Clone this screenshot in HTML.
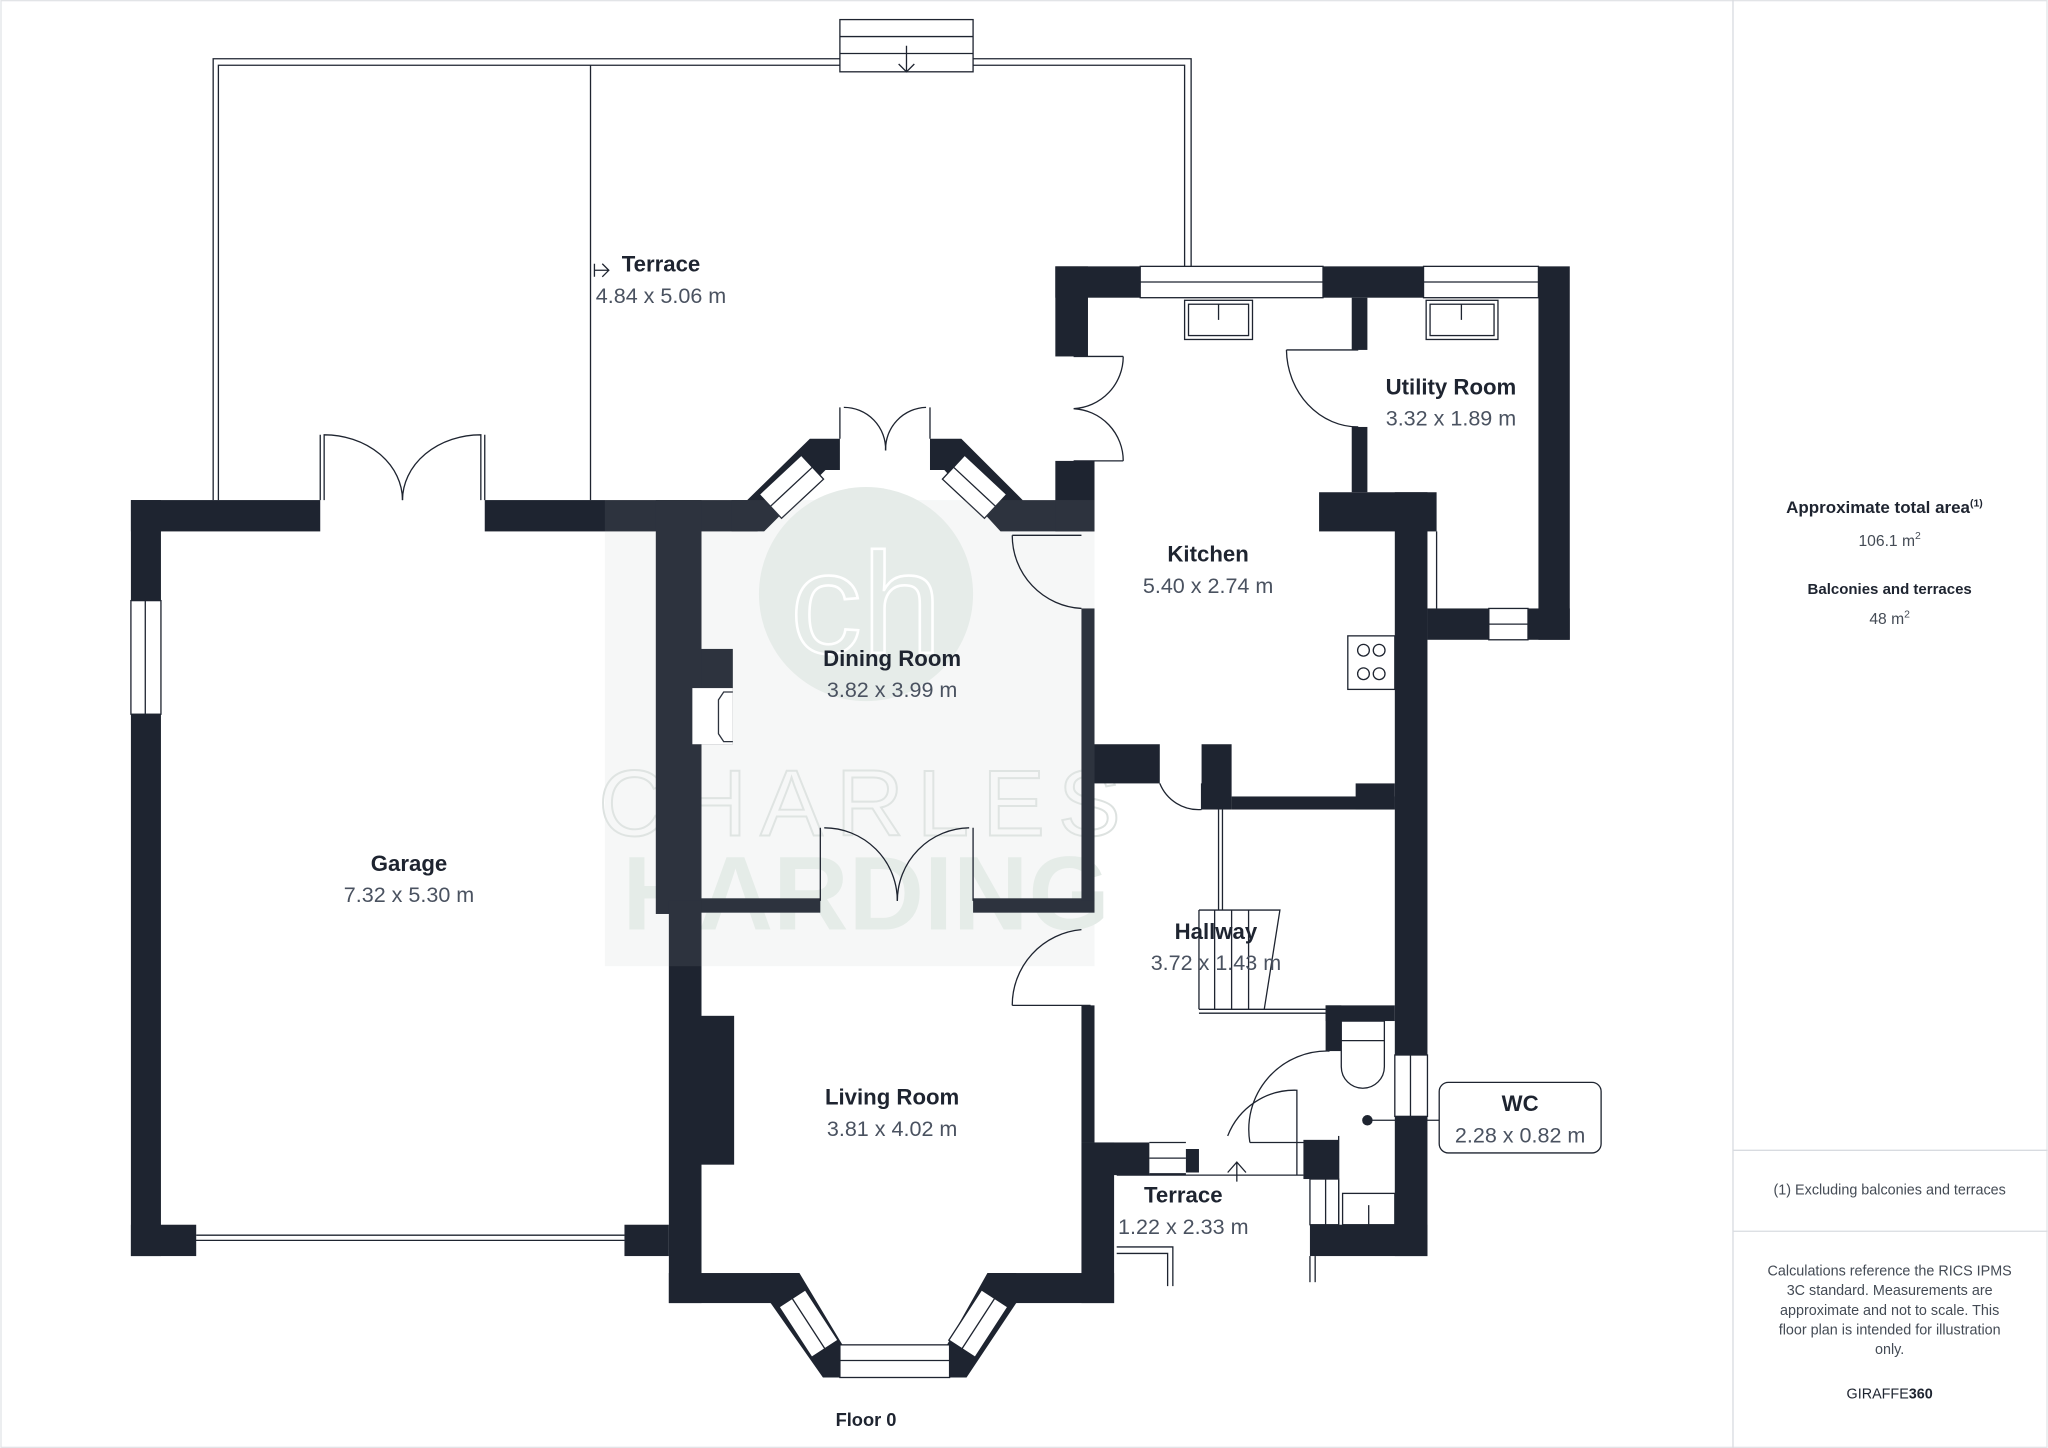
<!DOCTYPE html>
<html><head><meta charset="utf-8"><style>
html,body{margin:0;padding:0;background:#fff}
svg{display:block}
text{font-family:"Liberation Sans",sans-serif}
</style></head><body>
<svg width="2048" height="1448" viewBox="0 0 1568 1109" xmlns="http://www.w3.org/2000/svg">
<rect width="1568" height="1109" fill="#fff"/>
<rect x="0.5" y="0.5" width="1567" height="1108" fill="none" stroke="#e2e4e7"/>
<line x1="1327" y1="0" x2="1327" y2="1109" stroke="#d8dbe0"/>
<line x1="1327" y1="881" x2="1568" y2="881" stroke="#d8dbe0"/>
<line x1="1327" y1="943" x2="1568" y2="943" stroke="#d8dbe0"/>
<g fill="#1e2430" text-anchor="middle">
<text x="1443" y="393" font-size="13" font-weight="bold">Approximate total area<tspan font-size="8" dy="-5">(1)</tspan></text>
<text x="1447" y="418" font-size="12" fill="#444b55">106.1 m<tspan font-size="8" dy="-5">2</tspan></text>
<text x="1447" y="455" font-size="11.5" font-weight="bold">Balconies and terraces</text>
<text x="1447" y="478" font-size="12" fill="#444b55">48 m<tspan font-size="8" dy="-5">2</tspan></text>
<text x="1447" y="915" font-size="11" fill="#444b55">(1) Excluding balconies and terraces</text>
<g font-size="11" fill="#444b55">
<text x="1447" y="977">Calculations reference the RICS IPMS</text>
<text x="1447" y="992">3C standard. Measurements are</text>
<text x="1447" y="1007">approximate and not to scale. This</text>
<text x="1447" y="1022">floor plan is intended for illustration</text>
<text x="1447" y="1037">only.</text>
</g>
<text x="1447" y="1071" font-size="11" fill="#1e2430">GIRAFFE<tspan font-weight="bold">360</tspan></text>
<text x="663" y="1092" font-size="14" font-weight="bold">Floor 0</text>
</g>

<g fill="none" stroke="#1e2430" stroke-width="1">
<path d="M163 383 V45 H643 M745 45 H912 V204"/>
<path d="M167 383 V50 H643 M745 50 H907 V204"/>
<line x1="452" y1="50" x2="452" y2="383"/>
<rect x="643" y="15" width="102" height="40" fill="#fff"/>
<line x1="643" y1="28" x2="745" y2="28"/><line x1="643" y1="41" x2="745" y2="41"/>
<path d="M694 35 V55 M688 49 L694 55 L700 49"/>
<path d="M455 202 V212 M455 207 H466 M461 202 L466 207 L461 212"/>
</g>

<rect x="463" y="383" width="375" height="357" fill="#f6f7f7"/>
<circle cx="663" cy="455" r="82" fill="#e5ebe8"/>
<text x="663" y="500" text-anchor="middle" font-size="110" fill="none" stroke="#fff" stroke-width="2" font-family="Liberation Serif,serif">ch</text>
<text x="663" y="640" text-anchor="middle" font-size="72" fill="none" stroke="#dde2e0" stroke-width="1.5" letter-spacing="10">CHARLES</text>
<text x="663" y="712" text-anchor="middle" font-size="80" font-weight="bold" fill="#e4ebe7">HARDING</text>

<g fill="#1e2430">
<rect x="100" y="383" width="23" height="579"/>
<rect x="100" y="383" width="145" height="24"/>
<rect x="371" y="383" width="209" height="24"/>
<rect x="100" y="938" width="50" height="24"/>
<rect x="478" y="938" width="34" height="24"/>
<rect x="502" y="383" width="35" height="317"/>
<rect x="512" y="690" width="25" height="308"/>
<rect x="537" y="778" width="25" height="114"/>
<rect x="537" y="497" width="24" height="73"/>
<polygon points="560,383 572,383 620,336 643,336 643,360 632,360 585,407 560,407"/>
<polygon points="712,336 736,336 783,383 838,383 838,407 766,407 723,360 712,360"/>
<g transform="translate(581,396) rotate(-43)"><rect x="12" y="-12.5" width="44" height="25" fill="#fff" stroke="#1e2430" stroke-width="1"/><line x1="12" y1="0" x2="56" y2="0" stroke="#1e2430"/></g>
<g transform="translate(771,396) rotate(-137)"><rect x="12" y="-12.5" width="44" height="25" fill="#fff" stroke="#1e2430" stroke-width="1"/><line x1="12" y1="0" x2="56" y2="0" stroke="#1e2430"/></g>
<rect x="537" y="688" width="91" height="11"/>
<rect x="745" y="688" width="93" height="11"/>
<rect x="828" y="466" width="10" height="224"/>
<rect x="828" y="770" width="10" height="105"/>
<rect x="828" y="875" width="25" height="123"/>
<rect x="512" y="975" width="80" height="23"/>
<rect x="765" y="975" width="88" height="23"/>
<polygon points="590,975 612,975 645,1030 645,1055 630,1055 590,998"/>
<polygon points="778,975 756,975 725,1030 725,1055 740,1055 778,998"/>
<g transform="translate(601,986) rotate(57)"><rect x="10" y="-12" width="46" height="24" fill="#fff" stroke="#1e2430" stroke-width="1"/><line x1="10" y1="0" x2="56" y2="0" stroke="#1e2430"/></g>
<g transform="translate(767,986) rotate(123)"><rect x="10" y="-12" width="46" height="24" fill="#fff" stroke="#1e2430" stroke-width="1"/><line x1="10" y1="0" x2="56" y2="0" stroke="#1e2430"/></g>
<rect x="808" y="204" width="65" height="24"/>
<rect x="808" y="204" width="25" height="69"/>
<rect x="808" y="353" width="30" height="54"/>
<rect x="1013" y="204" width="77" height="24"/>
<rect x="1178" y="204" width="24" height="286"/>
<rect x="1035" y="228" width="12" height="40"/>
<rect x="1035" y="327" width="12" height="50"/>
<rect x="1010" y="377" width="90" height="30"/>
<rect x="1068" y="377" width="25" height="585"/>
<rect x="1093" y="466" width="47" height="24"/>
<rect x="1170" y="466" width="32" height="24"/>
<rect x="838" y="570" width="50" height="30"/>
<rect x="920" y="570" width="23" height="50"/>
<rect x="943" y="610" width="125" height="10"/>
<rect x="1038" y="600" width="30" height="20"/>
<rect x="1015" y="770" width="53" height="12"/>
<rect x="1015" y="770" width="12" height="35"/>
<rect x="838" y="875" width="42" height="25"/>
<rect x="908" y="880" width="10" height="18"/>
<rect x="998" y="873" width="27" height="30"/>
<rect x="1003" y="938" width="90" height="24"/>
</g>
<rect x="530" y="527" width="31" height="43" fill="#fff"/>
<path d="M561 530 H554 L550 536 V562 L554 568 H561" fill="none" stroke="#1e2430"/>

<rect x="463" y="383" width="375" height="357" fill="#fff" opacity="0.07"/>

<g fill="#fff" stroke="#1e2430" stroke-width="1">
<rect x="100" y="460" width="23" height="87"/><line x1="111" y1="460" x2="111" y2="547"/>
<rect x="873" y="204" width="140" height="24"/><line x1="873" y1="216" x2="1013" y2="216"/>
<rect x="1090" y="204" width="88" height="24"/><line x1="1090" y1="216" x2="1178" y2="216"/>
<rect x="1140" y="466" width="30" height="24"/><line x1="1140" y1="478" x2="1170" y2="478"/>
<rect x="1068" y="808" width="25" height="47"/><line x1="1080" y1="808" x2="1080" y2="855"/>
<rect x="643" y="1030" width="84" height="25"/><line x1="643" y1="1042" x2="727" y2="1042"/>
<rect x="907" y="230" width="52" height="30"/><rect x="910" y="233" width="46" height="24"/>
<rect x="1092" y="230" width="55" height="30"/><rect x="1095" y="233" width="49" height="24"/>
<rect x="1032" y="487" width="36" height="41"/>
<rect x="1028" y="914" width="40" height="24"/>
<rect x="1003" y="903" width="22" height="35"/>
</g>
<g fill="none" stroke="#1e2430" stroke-width="1">
<line x1="933" y1="233" x2="933" y2="245"/><line x1="1119" y1="233" x2="1119" y2="245"/>
<circle cx="1044" cy="498" r="4.5"/><circle cx="1056" cy="498" r="4.5"/><circle cx="1044" cy="516" r="4.5"/><circle cx="1056" cy="516" r="4.5"/>
<line x1="1100" y1="407" x2="1100" y2="466"/>
<line x1="123" y1="950" x2="478" y2="950"/><line x1="150" y1="946" x2="478" y2="946"/>
<path d="M245 383 V333 M248 383 V333 A60 50 0 0 1 308 383"/>
<path d="M371 383 V333 M368 383 V333 A60 50 0 0 0 308 383"/>
<path d="M643 336 V312 M646 312 A32 32 0 0 1 678 345"/>
<path d="M712 336 V312 M709 312 A32 32 0 0 0 678 345"/>
<path d="M628 690 V634 M631 634 A56 56 0 0 1 687 690"/>
<path d="M745 690 V634 M742 634 A56 56 0 0 0 687 690"/>
<path d="M822 273 H860 M860 273 A40 40 0 0 1 822 313 A40 40 0 0 1 860 353 M822 353 H860"/>
<path d="M775 410 H828 M775 410 A56 56 0 0 0 828 466"/>
<path d="M985 268 H1040 M985 268 A55 60 0 0 0 1040 327"/>
<path d="M775 770 H835 M775 770 A58 58 0 0 1 828 712"/>
<path d="M888 600 A32 32 0 0 0 920 620 M920 600 V620"/>
<line x1="933" y1="620" x2="933" y2="697"/><line x1="936" y1="620" x2="936" y2="697"/>
<path d="M918 697 H980 L968 773 M918 697 V773 M930 697 V773 M943 697 V773 M956 697 V773"/>
<path d="M918 773 H1015"/><path d="M918 776 H1015"/>
<path d="M1027 782 H1060 V817 A16 16 0 0 1 1027 817 Z"/><line x1="1027" y1="797" x2="1060" y2="797"/>
<path d="M1018 805 A60 60 0 0 0 957 875 M957 875 H1000"/>
<path d="M940 870 A55 55 0 0 1 993 835 V900"/>
<path d="M880 875 H908 M880 887 H908 M880 899 H908"/>
<line x1="855" y1="900" x2="998" y2="900"/><line x1="1025" y1="870" x2="1025" y2="940"/>
<line x1="1015" y1="903" x2="1015" y2="938"/><line x1="1048" y1="923" x2="1048" y2="938"/>
<path d="M940 898 L947 890 L954 898 M947 890 V905"/>
<path d="M855 955 H898 V985 M855 960 H894 V985"/>
<line x1="1003" y1="962" x2="1003" y2="982"/><line x1="1007" y1="962" x2="1007" y2="982"/>
<line x1="1050" y1="858" x2="1102" y2="858"/>
<rect x="1102" y="829" width="124" height="54" rx="7"/>
</g>
<circle cx="1047" cy="858" r="4" fill="#1e2430"/>

<g text-anchor="middle">
<g font-size="17" font-weight="bold" fill="#1e2430">
<text x="506" y="208">Terrace</text>
<text x="1111" y="302">Utility Room</text>
<text x="925" y="430">Kitchen</text>
<text x="683" y="510">Dining Room</text>
<text x="313" y="667">Garage</text>
<text x="931" y="719">Hallway</text>
<text x="683" y="846">Living Room</text>
<text x="1164" y="851">WC</text>
<text x="906" y="921">Terrace</text>
</g>
<g font-size="16.5" fill="#4a5260">
<text x="506" y="232">4.84 x 5.06 m</text>
<text x="1111" y="326">3.32 x 1.89 m</text>
<text x="925" y="454">5.40 x 2.74 m</text>
<text x="683" y="534">3.82 x 3.99 m</text>
<text x="313" y="691">7.32 x 5.30 m</text>
<text x="931" y="743">3.72 x 1.43 m</text>
<text x="683" y="870">3.81 x 4.02 m</text>
<text x="1164" y="875">2.28 x 0.82 m</text>
<text x="906" y="945">1.22 x 2.33 m</text>
</g>
</g>
</svg>
</body></html>
